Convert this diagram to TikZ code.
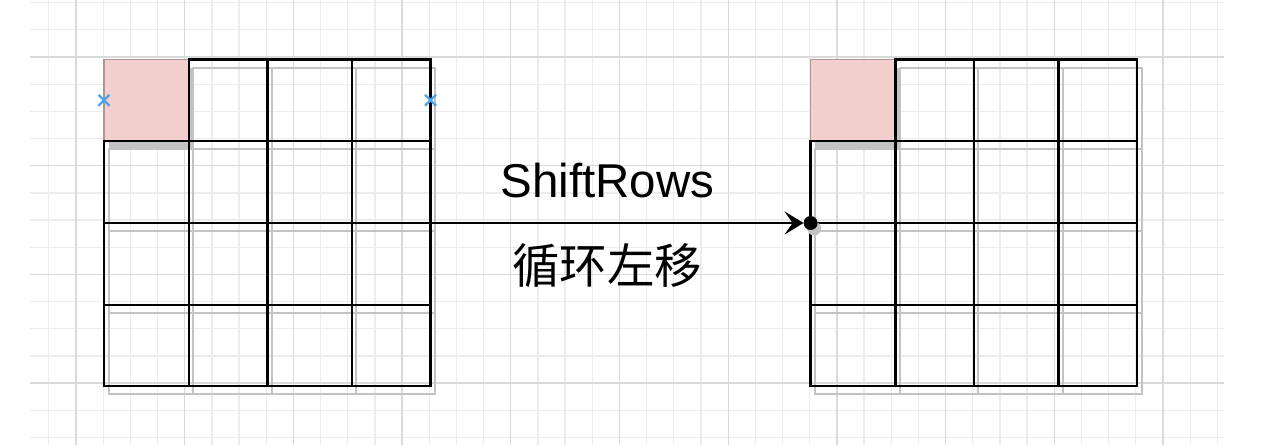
\documentclass[tikz,border=0pt]{standalone}
\usepackage{fontspec}
\setmainfont{Liberation Sans}
\newfontfamily\cjkfont{Noto Sans CJK SC}
\usetikzlibrary{arrows.meta}
\definecolor{gridminor}{RGB}{236,236,236}
\definecolor{gridmajor}{RGB}{218,218,218}
\definecolor{pinkcell}{RGB}{243,207,205}
\definecolor{pinkedge}{RGB}{175,150,150}
\definecolor{shadowgray}{RGB}{195,195,195}
\definecolor{markblue}{RGB}{75,165,235}
\begin{document}
\begin{tikzpicture}[x=1pt,y=-1pt,
  gridline/.style={line width=1.3pt},
  cellbox/.style={draw=black, line width=2.4pt, rectangle, inner sep=0pt, outer sep=0pt},
  pinkbox/.style={draw=pinkedge, fill=pinkcell, line width=1.2pt, rectangle, inner sep=0pt, outer sep=0pt},
  shadowline/.style={draw=shadowgray, line width=2pt},
  dotnode/.style={circle, fill=black, minimum size=14pt, inner sep=0pt, outer sep=0pt},
  arrowline/.style={line width=2pt, -{Stealth[length=19pt,width=23pt,inset=8pt]}},
  crossmark/.style={draw=markblue, line width=2.2pt},
  labeltext/.style={anchor=base, inner sep=0pt, font=\fontsize{47.5}{57}\selectfont},
  cjktext/.style={anchor=base, inner sep=0pt, font=\cjkfont\fontsize{47.5}{57}\selectfont}
]
\useasboundingbox (0,0) rectangle (1272,445);
\fill[white] (0,0) rectangle (1272,445);
% grid
\foreach \k in {0,...,43} {
  \pgfmathsetmacro\gx{48.8+27.175*\k}
  \draw[gridline, gridminor] (\gx,0) -- (\gx,445);
}
\foreach \k in {0,...,16} {
  \pgfmathsetmacro\gy{2.65+27.175*\k}
  \draw[gridline, gridminor] (30,\gy) -- (1224,\gy);
}
\foreach \k in {0,...,10} {
  \pgfmathsetmacro\gx{76+108.7*\k}
  \draw[gridline, gridmajor] (\gx,0) -- (\gx,445);
}
\foreach \k in {0,...,3} {
  \pgfmathsetmacro\gy{57+108.7*\k}
  \draw[gridline, gridmajor] (30,\gy) -- (1224,\gy);
}
% shadows
\foreach \side/\off in {L/0,R/706.6} {
 \foreach \i in {1,...,4} {
  \foreach \j in {1,...,4} {
    \pgfmathsetmacro\xa{{104,188.7,267.3,351.7,430.5}[\j-1]+\off}
    \pgfmathsetmacro\xb{{104,188.7,267.3,351.7,430.5}[\j]+\off}
    \pgfmathsetmacro\ya{{59.5,141,223,305,386}[\i-1]}
    \pgfmathsetmacro\yb{{59.5,141,223,305,386}[\i]}
    \ifnum\i\j=11
      \fill[shadowgray] (\xa+4.5,\ya+8) rectangle (\xb+4.5,\yb+8);
    \else
      \draw[shadowline] (\xa+4.5,\ya+8) rectangle (\xb+4.5,\yb+8);
    \fi
  }}}
% cells
\foreach \side/\off in {L/0,R/706.6} {
 \foreach \i in {1,...,4} {
  \foreach \j in {1,...,4} {
    \pgfmathsetmacro\xa{{104,188.7,267.3,351.7,430.5}[\j-1]+\off}
    \pgfmathsetmacro\xb{{104,188.7,267.3,351.7,430.5}[\j]+\off}
    \pgfmathsetmacro\ya{{59.5,141,223,305,386}[\i-1]}
    \pgfmathsetmacro\yb{{59.5,141,223,305,386}[\i]}
    \pgfmathsetmacro\cw{\xb-\xa}
    \pgfmathsetmacro\ch{\yb-\ya}
    \ifnum\i\j=11
      \tikzset{curcell/.style=pinkbox}
    \else
      \tikzset{curcell/.style=cellbox}
    \fi
    \node[curcell, minimum width=\cw pt, minimum height=\ch pt] (\side\i\j) at ({(\xa+\xb)/2},{(\ya+\yb)/2}) {};
  }}}
% connection markers
\foreach \n/\a in {L11/west,L14/east} {
  \draw[crossmark] ([shift={(-5.5,-5.5)}]\n.\a) -- ([shift={(5.5,5.5)}]\n.\a);
  \draw[crossmark] ([shift={(-5.5,5.5)}]\n.\a) -- ([shift={(5.5,-5.5)}]\n.\a);
}
% arrow with end dot
\coordinate (E) at (R21.south west);
\fill[shadowgray] ([shift={(3.5,5.5)}]E) circle (7);
\node[dotnode] (D) at (E) {};
\draw[arrowline] (L24.south east) -- (D.west);
% labels
\node[labeltext] (T1) at (607.5,197) {ShiftRows};
\node[cjktext] (T2) at (607,283.5) {循环左移};
\end{tikzpicture}
\end{document}
